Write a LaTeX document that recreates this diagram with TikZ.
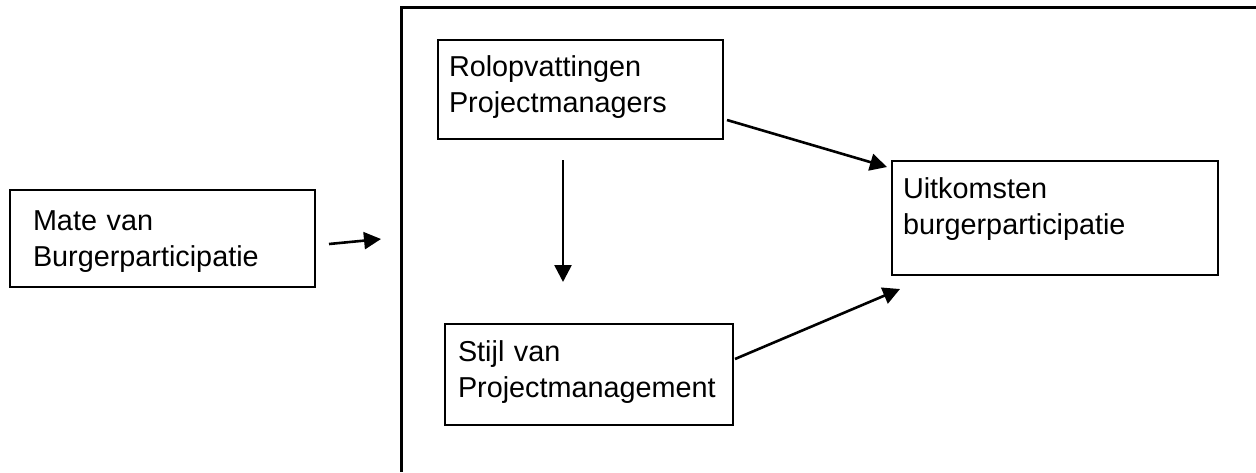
\documentclass[tikz,border=0pt]{standalone}
\usepackage{fontspec}
\setmainfont{Liberation Sans}
\usepackage{tikz}
\usetikzlibrary{positioning,arrows.meta,calc}

\begin{document}
\begin{tikzpicture}[
    x=0.5pt, y=-0.5pt,
    varbox/.style={rectangle, draw=black, line width=1pt, anchor=north west,
                   align=left, inner ysep=0pt,
                   font=\fontsize{14.4pt}{18.3pt}\selectfont},
    frameline/.style={draw=black, line width=1.5pt},
    arrow/.style={-{Triangle[length=8.5pt,width=8.5pt]}, line width=1.3pt}
]
    \useasboundingbox (0,0) rectangle (1256,472);
    % kader rond de procesvariabelen
    \draw[frameline] (1256,7.5) -| (401,472);

    \node[varbox, minimum width=152.5pt, minimum height=48.5pt, inner xsep=11.5pt,
          text width=129.5pt, text height=20pt, text depth=28.5pt]
          (mate) at (9,189) {Mate van\\Burgerparticipatie};
    \node[varbox, minimum width=142.5pt, minimum height=49.5pt, inner xsep=5.5pt,
          text width=131.5pt, text height=18pt, text depth=31.5pt]
          (rol) at (437,39) {Rolopvattingen\\Projectmanagers};
    \node[varbox, minimum width=144pt, minimum height=50.5pt, inner xsep=6.5pt,
          text width=131pt, text height=18.5pt, text depth=32pt]
          (stijl) at (444,323) {Stijl van\\Projectmanagement};
    \node[varbox, minimum width=163pt, minimum height=57pt, inner xsep=5.5pt,
          text width=152pt, text height=18.5pt, text depth=38.5pt]
          (uit) at (891,160) {Uitkomsten\\burgerparticipatie};

    \coordinate (mateout) at ($(mate.east)+(13,5.5)$);
    \coordinate (kaderin) at (381,239);
    \coordinate (rolbelow) at ($(rol.south)+(-17.5,20)$);
    \coordinate (stijlabove) at ($(stijl.north)+(-26,-41)$);

    \draw[arrow] (mateout) -- (kaderin);
    \draw[arrow] (rolbelow) -- (stijlabove);
    \draw[arrow] ($(rol.south east)+(3,-20)$) -- ($(uit.north west)+(-4,7)$);
    \draw[arrow] ($(stijl.east)+(1,-15.5)$) -- ($(uit.south west)+(9,13)$);
\end{tikzpicture}
\end{document}
